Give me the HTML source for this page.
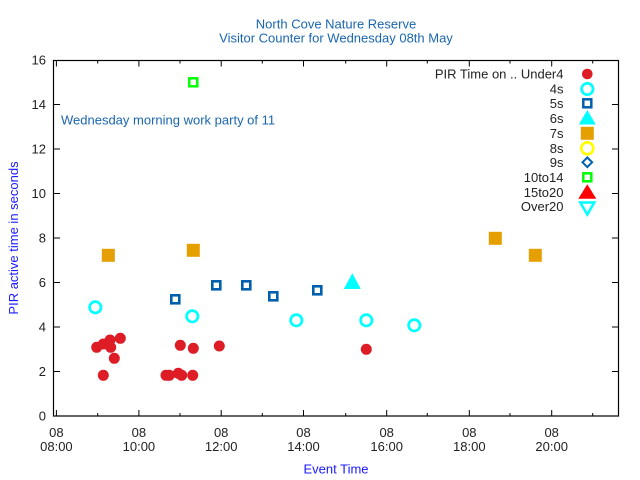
<!DOCTYPE html>
<html><head><meta charset="utf-8"><style>
html,body{margin:0;padding:0;background:#fff;}
svg{display:block;}
text{font-family:"Liberation Sans",Arial,sans-serif;}
</style></head><body>
<svg width="640" height="480" viewBox="0 0 640 480" xmlns="http://www.w3.org/2000/svg">
<rect width="640" height="480" fill="#fff"/>
<!-- titles -->
<g fill="#1a66b0" font-size="13" text-anchor="middle">
<text x="336" y="28.5">North Cove Nature Reserve</text>
<text x="336" y="42.5">Visitor Counter for Wednesday 08th May</text>
</g>
<text x="61" y="124.5" fill="#1a66b0" font-size="13">Wednesday morning work party of 11</text>
<!-- axis labels -->
<text x="336" y="473.5" fill="#1a1aff" font-size="13" text-anchor="middle">Event Time</text>
<text transform="translate(18,238) rotate(-90)" fill="#1a1aff" font-size="13" text-anchor="middle">PIR active time in seconds</text>
<!-- frame -->
<rect x="53.5" y="60.5" width="565" height="355.5" fill="none" stroke="#000" stroke-width="1.2"/>
<!-- y ticks -->
<g stroke="#000" stroke-width="1">
<path d="M54 416h6M54 371.5h6M54 327h6M54 282.5h6M54 238h6M54 193.5h6M54 149h6M54 104.5h6M54 60.5h6"/>
<path d="M618 416h-6M618 371.5h-6M618 327h-6M618 282.5h-6M618 238h-6M618 193.5h-6M618 149h-6M618 104.5h-6M618 60.5h-6"/>
<!-- x major -->
<path d="M56.4 416v-6M138.9 416v-6M221.2 416v-6M303.5 416v-6M386.7 416v-6M469.3 416v-6M551.7 416v-6"/>
<path d="M56.4 60.5v6M138.9 60.5v6M221.2 60.5v6M303.5 60.5v6M386.7 60.5v6M469.3 60.5v6M551.7 60.5v6"/>
<!-- x minor -->
<path d="M97.7 416v-3M180 416v-3M262.3 416v-3M345.7 416v-3M427.3 416v-3M510 416v-3M592.7 416v-3"/>
<path d="M97.7 60.5v3M180 60.5v3M262.3 60.5v3M345.7 60.5v3M427.3 60.5v3M510 60.5v3M592.7 60.5v3"/>
</g>
<g fill="#222" font-size="13" text-anchor="end">
<text x="46" y="420.5">0</text>
<text x="46" y="376">2</text>
<text x="46" y="331.5">4</text>
<text x="46" y="287">6</text>
<text x="46" y="242.5">8</text>
<text x="46" y="198">10</text>
<text x="46" y="153.5">12</text>
<text x="46" y="109">14</text>
<text x="46" y="64.5">16</text>
</g>
<g fill="#222" font-size="13" text-anchor="middle">
<text x="56.4" y="437">08</text><text x="56.4" y="451">08:00</text>
<text x="138.9" y="437">08</text><text x="138.9" y="451">10:00</text>
<text x="221.2" y="437">08</text><text x="221.2" y="451">12:00</text>
<text x="303.5" y="437">08</text><text x="303.5" y="451">14:00</text>
<text x="386.7" y="437">08</text><text x="386.7" y="451">16:00</text>
<text x="469.3" y="437">08</text><text x="469.3" y="451">18:00</text>
<text x="551.7" y="437">08</text><text x="551.7" y="451">20:00</text>
</g>
<!-- legend text -->
<g fill="#222" font-size="13" text-anchor="end">
<text x="563.5" y="78.5">PIR Time on .. Under4</text>
<text x="563.5" y="93.5">4s</text>
<text x="563.5" y="107.8">5s</text>
<text x="563.5" y="122.8">6s</text>
<text x="563.5" y="137.8">7s</text>
<text x="563.5" y="152.8">8s</text>
<text x="563.5" y="166.8">9s</text>
<text x="563.5" y="181.8">10to14</text>
<text x="563.5" y="196.8">15to20</text>
<text x="563.5" y="211.2">Over20</text>
</g>
<!-- legend symbols -->
<circle cx="587.3" cy="74" r="5.3" fill="#dd1c26"/>
<circle cx="587.3" cy="89" r="5.7" fill="none" stroke="#00ffff" stroke-width="2.7"/>
<rect x="583.3" y="99.3" width="8" height="8" fill="none" stroke="#0060ad" stroke-width="2.5"/>
<polygon points="587.3,110 595.8,124.5 578.8,124.5" fill="#00ffff"/>
<rect x="580.8" y="126.8" width="13" height="13" fill="#e69f00"/>
<circle cx="587.3" cy="148.3" r="6" fill="none" stroke="#ffff00" stroke-width="2.7"/>
<polygon points="587.3,157.5 592.1,162.3 587.3,167.1 582.5,162.3" fill="none" stroke="#0060ad" stroke-width="2"/>
<rect x="583.3" y="173.3" width="8" height="8" fill="none" stroke="#00ff00" stroke-width="2.5"/>
<polygon points="587.3,184.3 596.3,198.7 578.3,198.7" fill="#ff0000"/>
<polygon points="580.3,202.5 594.3,202.5 587.3,214.5" fill="none" stroke="#00ffff" stroke-width="2.5"/>
<!-- data: under4 -->
<g fill="#dd1c26">
<circle cx="96.7" cy="347.3" r="5.5"/>
<circle cx="103.3" cy="344" r="5.5"/>
<circle cx="110" cy="340" r="5.5"/>
<circle cx="110.7" cy="347.3" r="5.5"/>
<circle cx="120.3" cy="338.3" r="5.5"/>
<circle cx="114.3" cy="358.3" r="5.5"/>
<circle cx="103.3" cy="375.3" r="5.5"/>
<circle cx="166" cy="375.3" r="5.5"/>
<circle cx="169.3" cy="375.3" r="5.5"/>
<circle cx="178.3" cy="373.3" r="5.5"/>
<circle cx="181.7" cy="375.3" r="5.5"/>
<circle cx="192.7" cy="375.3" r="5.5"/>
<circle cx="180.3" cy="345.3" r="5.5"/>
<circle cx="193.3" cy="348.3" r="5.5"/>
<circle cx="219.3" cy="346" r="5.5"/>
<circle cx="366.3" cy="349.3" r="5.5"/>
</g>
<!-- 4s -->
<g fill="none" stroke="#00ffff" stroke-width="2.7">
<circle cx="95.3" cy="307.3" r="5.7"/>
<circle cx="192.3" cy="316.3" r="5.7"/>
<circle cx="296.3" cy="320.3" r="5.7"/>
<circle cx="366.3" cy="320.3" r="5.7"/>
<circle cx="414.3" cy="325.3" r="5.7"/>
</g>
<!-- 5s -->
<g fill="none" stroke="#0060ad" stroke-width="2.6">
<rect x="171.3" y="295.3" width="8" height="8"/>
<rect x="212.3" y="281.3" width="8" height="8"/>
<rect x="242.3" y="281.3" width="8" height="8"/>
<rect x="269.3" y="292.3" width="8" height="8"/>
<rect x="313.3" y="286.3" width="8" height="8"/>
</g>
<!-- 6s -->
<polygon points="352.3,273.3 360.8,289 343.8,289" fill="#00ffff"/>
<!-- 7s -->
<g fill="#e69f00">
<rect x="101.8" y="248.8" width="13" height="13"/>
<rect x="186.8" y="243.8" width="13" height="13"/>
<rect x="488.8" y="231.8" width="13" height="13"/>
<rect x="528.8" y="248.8" width="13" height="13"/>
</g>
<!-- 10to14 -->
<rect x="189.3" y="78.3" width="8" height="8" fill="none" stroke="#00ff00" stroke-width="2.5"/>
</svg>
</body></html>
